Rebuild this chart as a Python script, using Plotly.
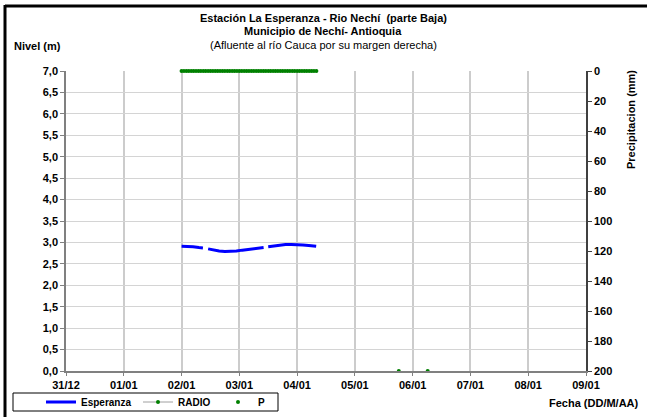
import plotly.graph_objects as go

# ---- data ----
day_labels = ["31/12", "01/01", "02/01", "03/01", "04/01", "05/01", "06/01", "07/01", "08/01", "09/01"]
day_ticks = [0, 1, 2, 3, 4, 5, 6, 7, 8, 9]

esp_day = [2.00, 2.10, 2.20, 2.30, 2.37, None, 2.46, 2.55, 2.65, 2.75, 2.85, 2.95, 3.05, 3.15,
           3.25, 3.35, 3.42, None, 3.50, 3.60, 3.70, 3.80, 3.90, 4.00, 4.10, 4.20, 4.33]
esp_level = [2.91, 2.91, 2.90, 2.88, 2.87, None, 2.85, 2.82, 2.80, 2.79, 2.79, 2.80, 2.82, 2.84,
             2.86, 2.87, 2.88, None, 2.90, 2.92, 2.94, 2.95, 2.95, 2.95, 2.94, 2.93, 2.91]

radio_hour = list(range(48, 105))          # hourly records, 02/01 00h .. 04/01 08h
radio_day = [h / 24 for h in radio_hour]
radio_mm = [0 for _ in radio_hour]

p_day = [5.76, 6.26]
p_level = [0.0, 0.0]

FONT = "Liberation Sans, Arial, sans-serif"

fig = go.Figure()
fig.add_trace(go.Scatter(x=esp_day, y=esp_level, mode="lines", name="Esperanza",
                         line=dict(color="#0000ff", width=3), connectgaps=False))
fig.add_trace(go.Scatter(x=radio_day, y=radio_mm, mode="lines+markers", name="RADIO", yaxis="y2",
                         line=dict(color="#a0a0a0", width=1),
                         marker=dict(color="#008000", size=4), cliponaxis=False))
fig.add_trace(go.Scatter(x=p_day, y=p_level, mode="markers", name="P", legend="legend2",
                         marker=dict(color="#008000", size=4), cliponaxis=False))

W, H = 647, 417
L, R, T, B = 66, 586, 71, 371


def px(x):
    return (x - L) / (R - L)


def py(y):
    return (B - y) / (B - T)


def note(text, x, y, **kw):
    d = dict(text=text, x=px(x), y=py(y), xref="paper", yref="paper", showarrow=False,
             xanchor="center", yanchor="middle", font=dict(size=11, family=FONT, color="black"))
    d.update(kw)
    return d


LEG_FONT = dict(family=FONT, size=10, color="black", weight="bold")

fig.update_layout(
    width=W, height=H,
    margin=dict(l=L, r=W - R, t=T, b=H - B, autoexpand=False),
    paper_bgcolor="white", plot_bgcolor="white",
    separators=", ",
    font=dict(family=FONT, size=11, color="black"),
    showlegend=True,
    legend=dict(orientation="h", xref="container", yref="container",
                x=41 / W, y=1 - 402 / H, xanchor="left", yanchor="middle",
                borderwidth=0, bgcolor="rgba(0,0,0,0)", font=LEG_FONT,
                tracegroupgap=0, entrywidth=52, itemwidth=30),
    legend2=dict(orientation="h", xref="container", yref="container",
                 x=218 / W, y=1 - 402 / H, xanchor="left", yanchor="middle",
                 borderwidth=0, bgcolor="rgba(0,0,0,0)", font=LEG_FONT,
                 tracegroupgap=0, itemwidth=30),
    xaxis=dict(range=[0, 9], tickvals=day_ticks, ticktext=day_labels, automargin=False,
               showgrid=True, gridcolor="#cccccc", gridwidth=1.5,
               showline=True, linecolor="#808080", linewidth=1.5,
               ticks="outside", ticklen=3, tickcolor="#808080",
               tickfont=dict(family=FONT, size=11, color="black", weight="bold"),
               zeroline=False),
    yaxis=dict(range=[0, 7], dtick=0.5, tickformat=".1f", automargin=False,
               showgrid=True, gridcolor="#d4d4d4", gridwidth=1,
               showline=True, linecolor="#808080", linewidth=1.5,
               ticks="outside", ticklen=4, tickcolor="#808080",
               tickfont=dict(family=FONT, size=11, color="black", weight="bold"),
               zeroline=False),
    yaxis2=dict(range=[200, 0], dtick=20, overlaying="y", side="right", automargin=False,
                showgrid=False, showline=True, linecolor="#404040", linewidth=1.5,
                ticks="outside", ticklen=4, tickcolor="#404040",
                tickfont=dict(family=FONT, size=11, color="black", weight="bold"),
                zeroline=False),
    annotations=[
        note("<b>Estación La Esperanza - Rio Nechí  (parte Baja)</b>", 323, 18),
        note("<b>Municipio de Nechí- Antioquia</b>", 323, 31),
        note("(Afluente al río Cauca por su margen derecha)", 323, 45),
        note("<b>Nivel (m)</b>", 12, 46, xanchor="left"),
        note("<b>Precipitacion (mm)</b>", 631, 120, textangle=-90),
        note("<b>Fecha (DD/M/AA)</b>", 641, 403, xanchor="right"),
    ],
    shapes=[
        dict(type="line", xref="paper", yref="paper", x0=px(5), x1=px(660), y0=py(6), y1=py(6),
             line=dict(color="black", width=3)),
        dict(type="line", xref="paper", yref="paper", x0=px(5), x1=px(5), y0=py(5), y1=py(430),
             line=dict(color="black", width=3)),
        dict(type="rect", xref="paper", yref="paper", x0=px(13), x1=px(278), y0=py(393), y1=py(411),
             line=dict(color="black", width=1), fillcolor="rgba(0,0,0,0)"),
    ],
)

fig.write_html("out.html", config={"displayModeBar": False},
               post_script="document.body.style.margin='0';document.body.style.overflow='hidden';")
